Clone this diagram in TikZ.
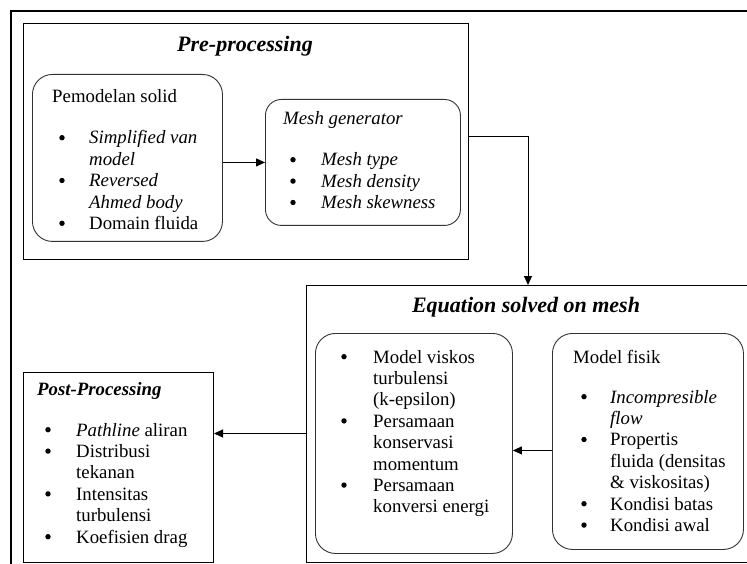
\documentclass[tikz,border=0pt]{standalone}
\usepackage{fontspec}
\setmainfont{Liberation Serif}
\usetikzlibrary{arrows.meta}
\tikzset{
  sqbox/.style={draw=black, line width=1pt, rectangle, inner sep=0pt, anchor=north west},
  rbox/.style={draw=black!80, line width=0.9pt, rectangle, rounded corners=18pt, inner sep=0pt, anchor=north west},
  arr/.style={draw=black, line width=1pt, -{Triangle[length=9pt,width=8pt]}},
  title/.style={font=\fontsize{22}{26}\selectfont\bfseries\itshape, anchor=base, inner sep=0pt},
  txt/.style={anchor=base west, inner sep=0pt, align=left},
  bulletdot/.style={fill=black}
}
\newcommand{\bullets}[3]{% node, x offset, list of rows
  \foreach \r in {#3}
    \fill[bulletdot] ([xshift=#2, yshift={(6.3-\r*21.4)*1pt}]#1.base west) circle[radius=2.7pt];}
\begin{document}
\begin{tikzpicture}[x=1pt,y=-1pt,font=\fontsize{18.8}{21.4}\selectfont]
\useasboundingbox (0,0) rectangle (747,564);
\clip (0,0) rectangle (747,564);
% outer frame
\draw[line width=2.2pt] (780,11) -- (11,11) -- (11,600);
% boxes
\node[sqbox, minimum width=445pt, minimum height=236pt] (pre) at (23,23) {};
\node[rbox, minimum width=190pt, minimum height=167pt, rounded corners=20pt] (solid) at (32,74) {};
\node[rbox, minimum width=195pt, minimum height=126pt, rounded corners=16pt] (mesh) at (265,99) {};
\node[sqbox, minimum width=470pt, minimum height=277pt] (eq) at (306,285) {};
\node[rbox, minimum width=197pt, minimum height=220pt, rounded corners=20pt] (visk) at (315,333) {};
\node[rbox, minimum width=191pt, minimum height=216pt, rounded corners=20pt] (fisik) at (552,333) {};
\node[sqbox, minimum width=190pt, minimum height=190pt] (post) at (23,372) {};
% titles
\node[title] (pretitle) at (245,52) {Pre-processing};
\node[title] (eqtitle) at (526,312) {Equation solved on mesh};
% Pemodelan solid
\node[txt] (solidhead) at (52,103) {Pemodelan solid};
\node[txt] (solidlist) at (89,144) {\begin{tabular}[t]{@{}l@{}}
\textit{Simplified van}\\
\textit{model}\\
\textit{Reversed}\\
\textit{Ahmed body}\\
Domain fluida
\end{tabular}};
\bullets{solidlist}{-27pt}{0,2,4}
% Mesh generator
\node[txt] (meshhead) at (283,125) {\textit{Mesh generator}};
\node[txt] (meshlist) at (321,166) {\begin{tabular}[t]{@{}l@{}}
\textit{Mesh type}\\
\textit{Mesh density}\\
\textit{Mesh skewness}
\end{tabular}};
\bullets{meshlist}{-28pt}{0,1,2}
% Post-processing
\node[txt] (posthead) at (37,395) {\textbf{\textit{Post-Processing}}};
\node[txt] (postlist) at (76,436) {\begin{tabular}[t]{@{}l@{}}
\textit{Pathline} aliran\\
Distribusi\\
tekanan\\
Intensitas\\
turbulensi\\
Koefisien drag
\end{tabular}};
\bullets{postlist}{-28pt}{0,1,3,5}
% Model viskos
\node[txt] (visklist) at (373,363) {\begin{tabular}[t]{@{}l@{}}
Model viskos\\
turbulensi\\
(k-epsilon)\\
Persamaan\\
konservasi\\
momentum\\
Persamaan\\
konversi energi
\end{tabular}};
\bullets{visklist}{-29pt}{0,3,6}
% Model fisik
\node[txt] (fisikhead) at (573,363) {Model fisik};
\node[txt] (fisiklist) at (610,403) {\begin{tabular}[t]{@{}l@{}}
\textit{Incompresible}\\
\textit{flow}\\
Propertis\\
fluida (densitas\\
\& viskositas)\\
Kondisi batas\\
Kondisi awal
\end{tabular}};
\bullets{fisiklist}{-26pt}{0,2,5,6}
% connectors
\draw[arr] (solid.east |- mesh.center) -- (mesh.west);
\coordinate (turn) at (528,137);
\draw[arr] (pre.east |- turn) -- (turn) -- (turn |- eq.north);
\draw[arr] ([yshift=-9pt]fisik.west) -- ([yshift=-9pt]fisik.west -| visk.east);
\draw[arr] ([yshift=-9.5pt]eq.west) -- ([yshift=-9.5pt]eq.west -| post.east);
\end{tikzpicture}
\end{document}
